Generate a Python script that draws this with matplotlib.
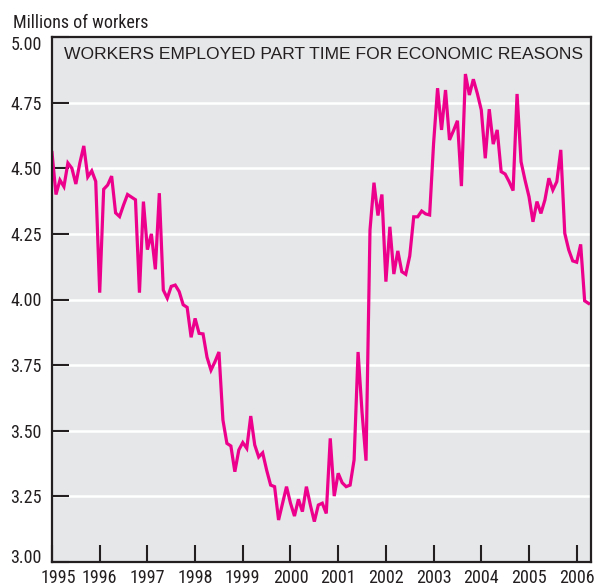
import numpy as np
import matplotlib
matplotlib.use("Agg")
import matplotlib.pyplot as plt
import matplotlib.transforms as mtransforms
from matplotlib import font_manager

# monthly values, millions of workers
y1995 = [4.56, 4.40, 4.455, 4.43, 4.52, 4.50, 4.44, 4.52, 4.585, 4.467, 4.49, 4.45]
y1996 = [4.026, 4.42, 4.436, 4.47, 4.33, 4.316, 4.36, 4.40, 4.39, 4.38, 4.026, 4.373]
y1997 = [4.19, 4.25, 4.115, 4.405, 4.036, 4.005, 4.05, 4.055, 4.03, 3.98, 3.97, 3.856]
y1998 = [3.928, 3.871, 3.869, 3.78, 3.731, 3.763, 3.80, 3.541, 3.452, 3.442, 3.344, 3.427]
y1999 = [3.455, 3.433, 3.556, 3.446, 3.40, 3.416, 3.35, 3.293, 3.287, 3.16, 3.224, 3.287]
y2000 = [3.224, 3.175, 3.239, 3.192, 3.287, 3.217, 3.154, 3.217, 3.224, 3.185, 3.471, 3.251]
y2001 = [3.338, 3.302, 3.287, 3.293, 3.389, 3.80, 3.57, 3.386, 4.265, 4.445, 4.32, 4.40]
y2002 = [4.068, 4.277, 4.097, 4.185, 4.106, 4.096, 4.166, 4.315, 4.315, 4.337, 4.326, 4.322]
y2003 = [4.595, 4.805, 4.646, 4.798, 4.608, 4.643, 4.681, 4.432, 4.859, 4.779, 4.839, 4.785]
y2004 = [4.722, 4.538, 4.725, 4.592, 4.646, 4.487, 4.478, 4.449, 4.415, 4.783, 4.525, 4.455]
y2005 = [4.392, 4.296, 4.373, 4.328, 4.379, 4.462, 4.417, 4.449, 4.57, 4.252, 4.189, 4.147]
y2006 = [4.142, 4.21, 3.995, 3.985]

years = list(range(1995, 2007))
yticks = [3.00, 3.25, 3.50, 3.75, 4.00, 4.25, 4.50, 4.75, 5.00]

values = np.array(y1995 + y1996 + y1997 + y1998 + y1999 + y2000 + y2001
                  + y2002 + y2003 + y2004 + y2005 + y2006)
months = 1995 + np.arange(len(values)) / 12.0

installed = {f.name for f in font_manager.fontManager.ttflist}


def pick(names):
    for n in names:
        if n in installed:
            return n
    return "DejaVu Sans"


narrow = pick(["Liberation Sans Narrow", "Roboto Condensed", "Open Sans Condensed",
               "Liberation Sans", "Arimo"])
regular = pick(["Liberation Sans", "Arimo", "Roboto"])
# narrow faces fall back to a smaller size if only a regular face exists
nsize = 13 if "Narrow" in narrow or "Condensed" in narrow else 11

ink = "#231f20"
pink = "#ec008c"
bg = "#e6e7e9"

fig = plt.figure(figsize=(5.94, 5.88), dpi=100)
ax = fig.add_axes([52 / 594, 26 / 588, 539 / 594, 525 / 588])
ax.set_facecolor(bg)

for v in yticks[1:-1]:
    ax.axhline(v, color="white", lw=1.8, zorder=1)

ax.plot(months, values, color=pink, lw=2.3, solid_joinstyle="miter", zorder=3)

ax.set_xlim(1995, 2006.30)
ax.set_ylim(3.0, 5.0)

ax.set_yticks(yticks)
ax.set_yticklabels(["%.2f" % v for v in yticks], family=narrow, fontsize=nsize, color=ink)
ax.set_xticks(years)
ax.set_xticklabels([str(y) for y in years], family=narrow, fontsize=nsize, color=ink)
ax.tick_params(axis="y", direction="in", length=12.5, width=1.5, color=ink, pad=7.5)
ax.tick_params(axis="x", direction="in", length=12.5, width=1.5, color=ink, pad=5)

# nudge the end labels so they stay inside the frame, like the original
ylabs = ax.get_yticklabels()
ylabs[0].set_transform(ylabs[0].get_transform() + mtransforms.ScaledTranslation(0, 6 / 100, fig.dpi_scale_trans))
ylabs[-1].set_transform(ylabs[-1].get_transform() + mtransforms.ScaledTranslation(0, -6 / 100, fig.dpi_scale_trans))
xlabs = ax.get_xticklabels()
xlabs[0].set_transform(xlabs[0].get_transform() + mtransforms.ScaledTranslation(6 / 100, 0, fig.dpi_scale_trans))

for s in ax.spines.values():
    s.set_color(ink)
    s.set_linewidth(1.6)
    s.set_zorder(4)

ax.text(0.022, 0.959, "WORKERS EMPLOYED PART TIME FOR ECONOMIC REASONS",
        transform=ax.transAxes, family=regular, fontsize=12.6 if regular != "DejaVu Sans" else 11.5,
        color=ink, ha="left", va="baseline")
fig.text(13 / 594, 1 - 27.7 / 588, "Millions of workers", family=narrow,
         fontsize=nsize, color=ink, ha="left", va="baseline")

fig.savefig("out.png", dpi=100, facecolor="white")
